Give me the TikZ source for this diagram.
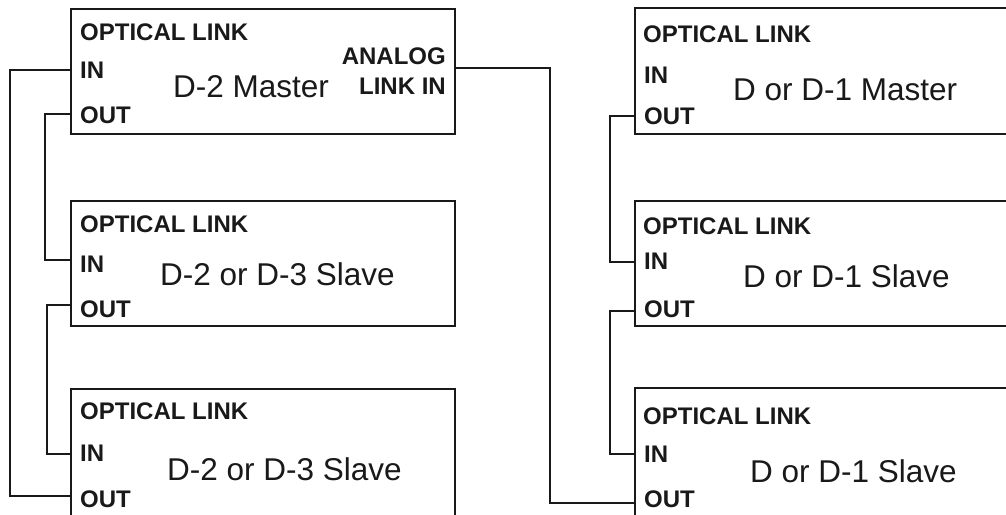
\documentclass[tikz,border=0pt]{standalone}
\usepackage{fontspec}
\setmainfont{Liberation Sans}
\begin{document}
\begin{tikzpicture}[x=1pt,y=-1pt,
  unit/.style={draw=black!90,line width=2.4pt,inner sep=0,anchor=north west},
  lbl/.style={inner sep=0,anchor=base west,font=\fontsize{24}{28}\selectfont\bfseries,text=black!90},
  lblr/.style={inner sep=0,anchor=base east,font=\fontsize{24}{28}\selectfont\bfseries,text=black!90},
  ttl/.style={inner sep=0,anchor=base west,font=\fontsize{31.5}{36}\selectfont,text=black!90},
  wire/.style={draw=black!90,line width=2.1pt}]
\useasboundingbox (0,0) rectangle (1006,514);
\clip (0,0) rectangle (1006,514);
% left column boxes
\node[unit,minimum width=384pt,minimum height=125pt] (L1) at (70,8) {};
\node[unit,minimum width=384pt,minimum height=125pt] (L2) at (70,200) {};
\node[unit,minimum width=384pt,minimum height=160pt] (L3) at (70,388) {};
% right column boxes
\node[unit,minimum width=420pt,minimum height=126pt] (R1) at (634,7) {};
\node[unit,minimum width=420pt,minimum height=125pt] (R2) at (634,200) {};
\node[unit,minimum width=420pt,minimum height=160pt] (R3) at (634,387) {};
% texts left
\node[lbl] (L1opt) at (80,40) {OPTICAL LINK};
\node[lbl] (L1inl) at (80,78) {IN};
\node[lbl] (L1outl) at (80,123) {OUT};
\node[ttl] (L1t) at (173,97) {D-2 Master};
\node[lblr] (L1an) at (446,64) {ANALOG};
\node[lblr] (L1li) at (446,94) {LINK IN};
\node[lbl] (L2opt) at (80,232) {OPTICAL LINK};
\node[lbl] (L2inl) at (80,272) {IN};
\node[lbl] (L2outl) at (80,317) {OUT};
\node[ttl] (L2t) at (160,285) {D-2 or D-3 Slave};
\node[lbl] (L3opt) at (80,419) {OPTICAL LINK};
\node[lbl] (L3inl) at (80,461) {IN};
\node[lbl] (L3outl) at (80,507) {OUT};
\node[ttl] (L3t) at (167,480) {D-2 or D-3 Slave};
% texts right
\node[lbl] (R1opt) at (643,42) {OPTICAL LINK};
\node[lbl] (R1inl) at (644,83) {IN};
\node[lbl] (R1outl) at (644,124) {OUT};
\node[ttl] (R1t) at (733,100) {D or D-1 Master};
\node[lbl] (R2opt) at (643,234) {OPTICAL LINK};
\node[lbl] (R2inl) at (644,269) {IN};
\node[lbl] (R2outl) at (644,317) {OUT};
\node[ttl] (R2t) at (743,287) {D or D-1 Slave};
\node[lbl] (R3opt) at (643,424) {OPTICAL LINK};
\node[lbl] (R3inl) at (644,462) {IN};
\node[lbl] (R3outl) at (644,507) {OUT};
\node[ttl] (R3t) at (750,482) {D or D-1 Slave};
% ports
\coordinate (L1in) at (L1.west |- 0,70);
\coordinate (L1out) at (L1.west |- 0,114);
\coordinate (L1an) at (L1.east |- 0,68);
\coordinate (L2in) at (L2.west |- 0,260);
\coordinate (L2out) at (L2.west |- 0,305);
\coordinate (L3in) at (L3.west |- 0,454);
\coordinate (L3out) at (L3.west |- 0,496);
\coordinate (R1out) at (R1.west |- 0,116);
\coordinate (R2in) at (R2.west |- 0,262);
\coordinate (R2out) at (R2.west |- 0,311);
\coordinate (R3in) at (R3.west |- 0,454);
\coordinate (R3out) at (R3.west |- 0,503);
% wires
\draw[wire] (L1in) -- (10,70) -- (10,496) -- (L3out);
\draw[wire] (L1out) -- (45,114) -- (45,260) -- (L2in);
\draw[wire] (L2out) -- (47,305) -- (47,454) -- (L3in);
\draw[wire] (L1an) -- (550,68) -- (550,503) -- (R3out);
\draw[wire] (R1out) -- (610,116) -- (610,262) -- (R2in);
\draw[wire] (R2out) -- (610,311) -- (610,454) -- (R3in);
\end{tikzpicture}
\end{document}
